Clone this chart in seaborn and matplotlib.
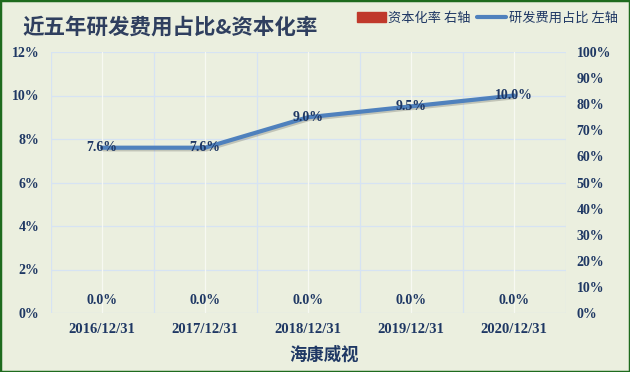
import matplotlib
matplotlib.use("Agg")
import matplotlib.pyplot as plt
import matplotlib.patheffects as pe
from matplotlib.lines import Line2D
from matplotlib.patches import Patch
import seaborn as sns
import pandas as pd

dates = ["2016/12/31", "2017/12/31", "2018/12/31", "2019/12/31", "2020/12/31"]
rd_ratio = [7.6, 7.6, 9.0, 9.5, 10.0]      # 研发费用占比 (%), left axis
cap_rate = [0.0, 0.0, 0.0, 0.0, 0.0]       # 资本化率 (%), right axis
left_ticks = [0, 2, 4, 6, 8, 10, 12]
right_ticks = [0, 10, 20, 30, 40, 50, 60, 70, 80, 90, 100]

title = "近五年研发费用占比&资本化率"
xlabel = "海康威视"
bar_name = "资本化率 右轴"
line_name = "研发费用占比 左轴"

df = pd.DataFrame({"date": dates, "rd": rd_ratio, "cap": cap_rate})

sns.set_theme(style="white")
plt.rcParams["font.family"] = ["Noto Sans CJK SC", "DejaVu Sans"]

BG = "#EBEFDF"
TXT = "#1F3864"
BLUE = "#4F81BD"
RED = "#C0392B"
GRID = "#D6E3F3"
serif = ["Liberation Serif", "DejaVu Serif"]

fig = plt.figure(figsize=(6.3, 3.72), dpi=100, facecolor=BG)
ax = fig.add_axes([50.5 / 630, 1 - 313 / 372, (565.5 - 50.5) / 630, (313 - 52) / 372])
ax.set_facecolor(BG)
ax2 = ax.twinx()

# bars on right axis
sns.barplot(data=df, x="date", y="cap", ax=ax2, color=RED, width=0.5, saturation=1)
ax2.set_ylim(0, 100)
ax2.set_yticks(right_ticks)
ax2.set_yticklabels([f"{t}%" for t in right_ticks])

# line on left axis
sns.lineplot(data=df, x="date", y="rd", ax=ax, color=BLUE, linewidth=3, sort=False,
             path_effects=[pe.SimpleLineShadow(offset=(1, -1.2), alpha=0.2), pe.Normal()])
ax.set_ylim(0, 12)
ax.set_xlim(-0.5, 4.5)
ax.set_yticks(left_ticks)
ax.set_yticklabels([f"{t}%" for t in left_ticks])
for i, v in enumerate(rd_ratio):
    ax.text(i, v, f"{v:.1f}%", ha="center", va="center", fontsize=10,
            fontweight="bold", color=TXT, family=serif, zorder=10)

ax.set_zorder(ax2.get_zorder() + 1)
ax.patch.set_visible(True)
ax2.patch.set_visible(False)

# bar value labels (drawn in the right-axis data coordinates, on the top axes)
for i, v in enumerate(cap_rate):
    ax.annotate(f"{v:.1f}%", (i, v), xycoords=ax2.transData, xytext=(0, 9),
                textcoords="offset points", ha="center", va="center", fontsize=10,
                fontweight="bold", color=TXT, family=serif, zorder=10)

# gridlines
for y in left_ticks:
    ax.axhline(y, color=GRID, lw=0.9, zorder=0)
for x in [k + 0.5 for k in range(-1, 5)]:
    ax.axvline(x, color=GRID, lw=0.9, zorder=0)
for x in range(5):
    ax.axvline(x, color="#F7F9F2", lw=0.9, zorder=0)

for a in (ax, ax2):
    for s in a.spines.values():
        s.set_visible(False)
    a.tick_params(length=0, pad=8)
    for lab in a.get_yticklabels():
        lab.set_family(serif)
        lab.set_fontweight("bold")
        lab.set_fontsize(10)
        lab.set_color(TXT)
    a.set_ylabel("")

ax.set_xticks(range(5))
ax.set_xticklabels(dates, family=serif, fontweight="bold", fontsize=10.5, color=TXT)
ax.tick_params(axis="x", pad=7)
ax2.set_xlabel("")
ax.set_xlabel("")
fig.text(324 / 630, 1 - 355 / 372, xlabel, fontsize=12.5, fontweight="bold",
         color=TXT, ha="center", va="center")

fig.text(22 / 630, 1 - 27 / 372, title, fontsize=15.5, color="#2F3F5F",
         ha="left", va="center", fontweight="bold")

handles = [Patch(facecolor=RED, edgecolor=RED), Line2D([], [], color=BLUE, lw=3)]
fig.legend(handles, [bar_name, line_name], loc="center right",
           bbox_to_anchor=(1.0, 1 - 18 / 372), ncol=2, frameon=False,
           fontsize=9.5, handlelength=2.2, handletextpad=0.2, columnspacing=0.5,
           labelcolor=TXT)

fig.patches.append(plt.Rectangle((0, 0), 1, 1, transform=fig.transFigure,
                                 fill=False, edgecolor="#1E6B1E", lw=2.5))

fig.savefig("out.png", dpi=100, facecolor=BG)
